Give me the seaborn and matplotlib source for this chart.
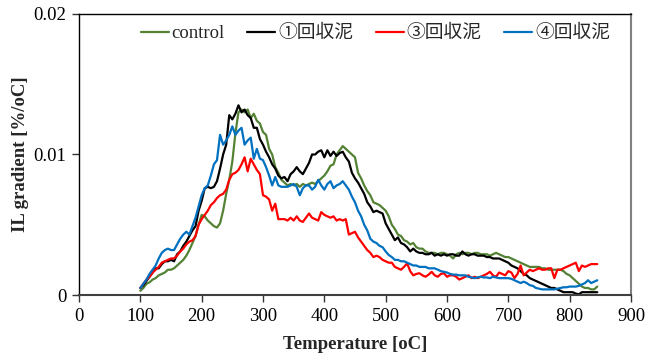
import numpy as np
import pandas as pd
import seaborn as sns
import matplotlib.pyplot as plt

# temperature grid [oC]
temps = np.arange(100, 850, 5)

# IL gradient values, in units of 0.001 %/oC
control = [
    0.3, 0.5, 0.8, 0.9, 1.1, 1.2, 1.4, 1.5, 1.6, 1.8,
    1.8, 1.9, 2.1, 2.3, 2.5, 2.8, 3.2, 3.7, 4.2, 5.0,
    5.7, 5.6, 5.3, 5.1, 4.9, 4.8, 5.1, 6.0, 7.2, 8.2,
    9.5, 11.5, 13.0, 13.2, 13.0, 13.2, 12.6, 12.9, 12.4, 12.2,
    11.6, 11.4, 10.4, 10.0, 9.1, 8.7, 8.2, 8.0, 7.8, 7.9,
    7.8, 7.9, 7.7, 7.9, 7.8, 7.9, 8.0, 7.9, 8.1, 8.3,
    8.5, 8.8, 9.2, 9.3, 10.0, 10.3, 10.6, 10.4, 10.2, 10.0,
    9.8, 8.7, 8.3, 7.8, 7.4, 7.1, 6.6, 6.5, 6.4, 6.2,
    6.0, 5.6, 5.0, 4.7, 4.3, 4.2, 3.9, 3.8, 3.6, 3.7,
    3.4, 3.3, 3.3, 3.1, 3.0, 3.0, 3.0, 2.9, 3.0, 3.0,
    2.9, 2.8, 2.6, 2.9, 3.0, 2.9, 3.0, 3.0, 2.9, 3.0,
    3.0, 2.9, 2.9, 2.9, 2.8, 2.9, 3.0, 2.9, 2.8, 2.7,
    2.7, 2.6, 2.5, 2.4, 2.3, 2.2, 2.1, 2.0, 2.0, 2.0,
    2.0, 1.9, 1.9, 1.8, 1.8, 1.8, 1.8, 1.8, 1.7, 1.5,
    1.4, 1.2, 1.0, 0.8, 0.6, 0.5, 0.5, 0.4, 0.4, 0.6,
]
sludge1 = [
    0.5, 0.7, 1.0, 1.3, 1.6, 1.9, 1.9, 2.2, 2.4, 2.4,
    2.5, 2.4, 2.9, 3.1, 3.5, 3.8, 4.2, 4.6, 4.9, 6.0,
    6.7, 7.6, 7.7, 7.6, 7.7, 8.1, 9.0, 10.0, 10.7, 12.8,
    12.5, 12.9, 13.5, 13.0, 13.2, 12.8, 12.6, 11.9, 11.9, 11.1,
    10.7, 10.2, 9.8, 9.3, 9.0, 8.5, 8.3, 8.4, 8.1, 8.6,
    8.8, 9.1, 8.8, 8.6, 9.0, 9.4, 10.0, 10.0, 10.2, 10.3,
    9.8, 10.3, 9.9, 10.2, 9.9, 10.1, 10.2, 9.8, 9.5, 8.7,
    8.3, 8.0, 7.6, 7.2, 6.6, 6.3, 5.9, 6.0, 5.9, 5.8,
    5.1, 4.7, 4.3, 3.9, 4.1, 3.7, 3.6, 3.4, 3.1, 3.3,
    3.1, 3.0, 3.0, 2.9, 2.9, 3.0, 2.8, 2.9, 2.8, 2.9,
    2.8, 2.9, 2.9, 2.8, 2.8, 3.1, 2.9, 2.8, 2.9, 2.9,
    2.8, 2.8, 2.8, 2.7, 2.7, 2.6, 2.6, 2.6, 2.5, 2.4,
    2.3, 2.1, 2.0, 1.9, 1.7, 1.5, 1.4, 1.2, 1.1, 1.0,
    0.9, 0.8, 0.7, 0.6, 0.5, 0.5, 0.4, 0.3, 0.2, 0.2,
    0.2, 0.2, 0.1, 0.05, 0.2, 0.2, 0.2, 0.2, 0.2, 0.2,
]
sludge3 = [
    0.5, 0.8, 1.1, 1.3, 1.6, 1.8, 2.0, 2.3, 2.4, 2.5,
    2.6, 2.6, 2.8, 3.1, 3.3, 3.6, 3.8, 3.9, 4.2, 5.0,
    5.4, 5.7, 6.0, 6.4, 6.6, 6.9, 7.1, 7.2, 7.5, 8.2,
    8.6, 8.7, 8.9, 9.3, 9.8, 8.8, 9.7, 9.3, 8.9, 8.6,
    7.1, 7.0, 6.8, 6.0, 6.5, 5.4, 5.4, 5.4, 5.3, 5.5,
    5.3, 5.6, 5.3, 5.2, 5.5, 5.8, 5.5, 5.4, 5.3, 5.9,
    5.7, 5.6, 5.5, 5.6, 5.3, 5.4, 5.3, 5.4, 4.3, 4.4,
    4.5, 4.1, 3.8, 3.5, 3.2, 3.0, 2.7, 2.8, 2.7, 2.5,
    2.4, 2.3, 2.3, 2.0, 1.9, 1.8, 2.0, 2.25, 1.7, 1.4,
    1.5, 1.55, 1.4, 1.3, 1.45, 1.65, 1.4, 1.3, 1.5, 1.55,
    1.3, 1.4, 1.4, 1.3, 1.1, 1.2, 1.3, 1.4, 1.2, 1.3,
    1.2, 1.3, 1.4, 1.5, 1.65, 1.4, 1.3, 1.6, 1.5, 1.4,
    1.7, 1.6, 1.2, 1.5, 2.1, 1.4, 1.6, 1.8, 1.7, 1.8,
    1.9, 1.8, 1.8, 1.9, 1.9, 1.2, 1.8, 1.8, 1.9, 2.0,
    2.1, 2.2, 2.3, 1.7, 2.1, 2.0, 2.1, 2.2, 2.2, 2.2,
]
sludge4 = [
    0.5, 0.8, 1.1, 1.5, 1.8, 2.1, 2.6, 3.0, 3.2, 3.3,
    3.2, 3.2, 3.6, 4.0, 4.3, 4.5, 4.3, 4.9, 5.5, 6.3,
    7.1, 7.6, 7.8, 8.5, 9.3, 9.6, 11.4, 10.7, 11.0, 11.4,
    12.0, 11.4, 11.7, 11.9, 10.7, 11.0, 11.2, 9.7, 10.4, 9.7,
    9.6, 9.1, 8.5, 7.8, 8.4, 7.8, 7.7, 7.7, 7.7, 7.8,
    7.9, 7.7, 7.1, 7.6, 7.8, 7.8, 7.5, 7.7, 8.2, 7.8,
    7.5, 7.9, 8.1, 7.6, 7.8, 7.9, 8.1, 7.8, 7.5, 7.0,
    6.6, 6.0, 5.6, 5.0, 4.6, 4.0, 3.8, 3.7, 3.5, 3.4,
    3.1, 2.85, 2.7, 2.5, 2.5, 2.4, 2.4, 2.3, 2.2, 2.1,
    2.1, 2.0, 2.0, 2.0, 1.9, 1.9, 1.9, 1.8, 1.7, 1.65,
    1.6, 1.5, 1.45, 1.45, 1.4, 1.4, 1.4, 1.3, 1.25, 1.2,
    1.25, 1.3, 1.25, 1.25, 1.2, 1.3, 1.25, 1.2, 1.2, 1.2,
    1.2, 1.15, 1.05, 0.95, 0.85, 0.95, 0.85, 0.7, 0.65, 0.5,
    0.45, 0.4, 0.4, 0.4, 0.4, 0.4, 0.45, 0.5, 0.55, 0.55,
    0.6, 0.6, 0.6, 0.65, 0.75, 0.85, 1.05, 0.85, 0.95, 1.05,
]

series_names = ['control', '①回収泥', '③回収泥', '④回収泥']
series_colors = ['#548235', '#000000', '#FF0000', '#0070C0']

frames = []
for name, vals in zip(series_names, [control, sludge1, sludge3, sludge4]):
    frames.append(pd.DataFrame({'T': temps, 'IL': np.array(vals) * 1e-3, 'series': name}))
df = pd.concat(frames, ignore_index=True)

sns.set_style('ticks')
plt.rcParams['font.family'] = ['Liberation Serif', 'Noto Sans CJK JP']

fig = plt.figure(figsize=(6.61, 3.55), dpi=100)
ax = fig.add_axes([0.1195, 0.169, 0.8351, 0.7916])

sns.lineplot(data=df, x='T', y='IL', hue='series', hue_order=series_names,
             palette=series_colors, linewidth=1.6, ax=ax, sort=False)

ax.set_xlim(0, 900)
ax.set_ylim(0, 0.02)
ax.set_xticks(np.arange(0, 901, 100))
ax.set_yticks([0, 0.01, 0.02])
ax.set_yticklabels(['0', '0.01', '0.02'])
ax.tick_params(axis='both', labelsize=13.5, direction='out', length=5, width=1, colors='#333333',
               labelcolor='black', pad=4)
ax.set_xlabel('Temperature [oC]', fontsize=13.5, fontweight='bold', labelpad=8)
ax.set_ylabel('IL gradient [%/oC]', fontsize=13.5, fontweight='bold', labelpad=3)

for side in ['left', 'top']:
    ax.spines[side].set_color('black')
    ax.spines[side].set_linewidth(1.0)
ax.spines['bottom'].set_color('#404040')
ax.spines['bottom'].set_linewidth(1.5)
ax.spines['right'].set_color('#808080')
ax.spines['right'].set_linewidth(1.5)

ax.legend(loc='center', bbox_to_anchor=(0.537, 0.93), ncol=4, frameon=False,
          fontsize=13.5, handlelength=1.5, handletextpad=0.15, columnspacing=1.2)

fig.savefig('out.png', dpi=100)
